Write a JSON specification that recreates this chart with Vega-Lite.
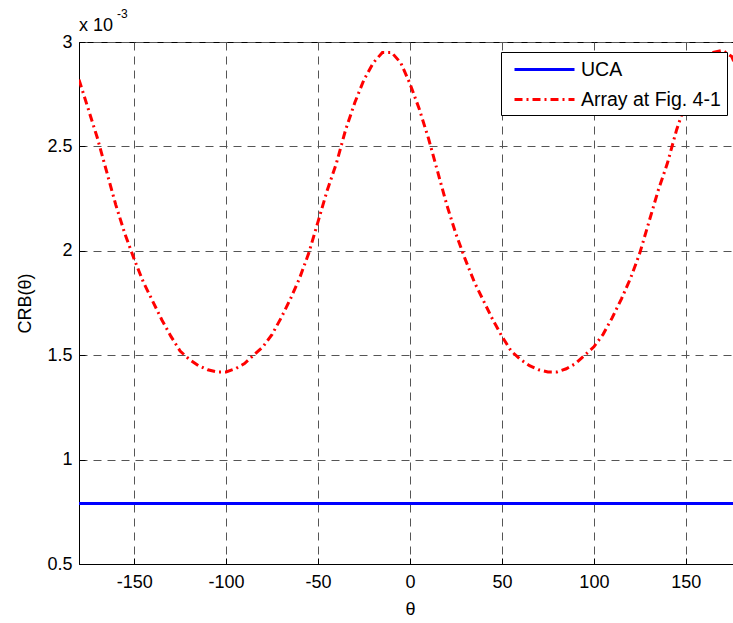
{
  "$schema": "https://vega.github.io/schema/vega-lite/v6.json",
  "width": 662,
  "height": 522,
  "autosize": "none",
  "padding": {"left": 79, "top": 42, "right": 0, "bottom": 59},
  "background": "white",
  "config": {
    "font": "Liberation Sans",
    "view": {"stroke": "black", "strokeWidth": 1},
    "axis": {
      "domainColor": "black",
      "domainWidth": 1,
      "tickColor": "black",
      "tickSize": -6,
      "tickWidth": 1,
      "labelColor": "black",
      "labelFont": "Liberation Sans",
      "labelFontSize": 18,
      "titleFont": "Liberation Sans",
      "titleFontSize": 18,
      "titleFontWeight": "normal",
      "titleColor": "black",
      "gridColor": "#555555",
      "gridDash": [8, 6],
      "gridWidth": 1,
      "gridOpacity": 1
    }
  },
  "layer": [
    {
      "data": {
        "values": [
          {"theta": -180, "crb": 0.79, "series": "UCA"},
          {"theta": 180, "crb": 0.79, "series": "UCA"},
          {"theta": -180, "crb": 2.82, "series": "Array at Fig. 4-1"},
          {"theta": -175, "crb": 2.68, "series": "Array at Fig. 4-1"},
          {"theta": -170, "crb": 2.54, "series": "Array at Fig. 4-1"},
          {"theta": -165, "crb": 2.38, "series": "Array at Fig. 4-1"},
          {"theta": -160, "crb": 2.22, "series": "Array at Fig. 4-1"},
          {"theta": -155, "crb": 2.08, "series": "Array at Fig. 4-1"},
          {"theta": -150, "crb": 1.96, "series": "Array at Fig. 4-1"},
          {"theta": -145, "crb": 1.85, "series": "Array at Fig. 4-1"},
          {"theta": -140, "crb": 1.76, "series": "Array at Fig. 4-1"},
          {"theta": -135, "crb": 1.67, "series": "Array at Fig. 4-1"},
          {"theta": -130, "crb": 1.59, "series": "Array at Fig. 4-1"},
          {"theta": -125, "crb": 1.52, "series": "Array at Fig. 4-1"},
          {"theta": -120, "crb": 1.48, "series": "Array at Fig. 4-1"},
          {"theta": -115, "crb": 1.45, "series": "Array at Fig. 4-1"},
          {"theta": -110, "crb": 1.43, "series": "Array at Fig. 4-1"},
          {"theta": -105, "crb": 1.42, "series": "Array at Fig. 4-1"},
          {"theta": -100, "crb": 1.42, "series": "Array at Fig. 4-1"},
          {"theta": -95, "crb": 1.435, "series": "Array at Fig. 4-1"},
          {"theta": -90, "crb": 1.46, "series": "Array at Fig. 4-1"},
          {"theta": -85, "crb": 1.5, "series": "Array at Fig. 4-1"},
          {"theta": -80, "crb": 1.54, "series": "Array at Fig. 4-1"},
          {"theta": -75, "crb": 1.6, "series": "Array at Fig. 4-1"},
          {"theta": -70, "crb": 1.68, "series": "Array at Fig. 4-1"},
          {"theta": -65, "crb": 1.77, "series": "Array at Fig. 4-1"},
          {"theta": -60, "crb": 1.87, "series": "Array at Fig. 4-1"},
          {"theta": -55, "crb": 1.99, "series": "Array at Fig. 4-1"},
          {"theta": -50, "crb": 2.14, "series": "Array at Fig. 4-1"},
          {"theta": -45, "crb": 2.29, "series": "Array at Fig. 4-1"},
          {"theta": -40, "crb": 2.42, "series": "Array at Fig. 4-1"},
          {"theta": -35, "crb": 2.58, "series": "Array at Fig. 4-1"},
          {"theta": -30, "crb": 2.71, "series": "Array at Fig. 4-1"},
          {"theta": -25, "crb": 2.82, "series": "Array at Fig. 4-1"},
          {"theta": -20, "crb": 2.9, "series": "Array at Fig. 4-1"},
          {"theta": -15, "crb": 2.95, "series": "Array at Fig. 4-1"},
          {"theta": -10, "crb": 2.95, "series": "Array at Fig. 4-1"},
          {"theta": -5, "crb": 2.9, "series": "Array at Fig. 4-1"},
          {"theta": 0, "crb": 2.8, "series": "Array at Fig. 4-1"},
          {"theta": 5, "crb": 2.68, "series": "Array at Fig. 4-1"},
          {"theta": 10, "crb": 2.54, "series": "Array at Fig. 4-1"},
          {"theta": 15, "crb": 2.38, "series": "Array at Fig. 4-1"},
          {"theta": 20, "crb": 2.22, "series": "Array at Fig. 4-1"},
          {"theta": 25, "crb": 2.08, "series": "Array at Fig. 4-1"},
          {"theta": 30, "crb": 1.96, "series": "Array at Fig. 4-1"},
          {"theta": 35, "crb": 1.85, "series": "Array at Fig. 4-1"},
          {"theta": 40, "crb": 1.76, "series": "Array at Fig. 4-1"},
          {"theta": 45, "crb": 1.67, "series": "Array at Fig. 4-1"},
          {"theta": 50, "crb": 1.59, "series": "Array at Fig. 4-1"},
          {"theta": 55, "crb": 1.52, "series": "Array at Fig. 4-1"},
          {"theta": 60, "crb": 1.48, "series": "Array at Fig. 4-1"},
          {"theta": 65, "crb": 1.45, "series": "Array at Fig. 4-1"},
          {"theta": 70, "crb": 1.43, "series": "Array at Fig. 4-1"},
          {"theta": 75, "crb": 1.42, "series": "Array at Fig. 4-1"},
          {"theta": 80, "crb": 1.42, "series": "Array at Fig. 4-1"},
          {"theta": 85, "crb": 1.435, "series": "Array at Fig. 4-1"},
          {"theta": 90, "crb": 1.46, "series": "Array at Fig. 4-1"},
          {"theta": 95, "crb": 1.5, "series": "Array at Fig. 4-1"},
          {"theta": 100, "crb": 1.54, "series": "Array at Fig. 4-1"},
          {"theta": 105, "crb": 1.6, "series": "Array at Fig. 4-1"},
          {"theta": 110, "crb": 1.68, "series": "Array at Fig. 4-1"},
          {"theta": 115, "crb": 1.77, "series": "Array at Fig. 4-1"},
          {"theta": 120, "crb": 1.87, "series": "Array at Fig. 4-1"},
          {"theta": 125, "crb": 1.99, "series": "Array at Fig. 4-1"},
          {"theta": 130, "crb": 2.14, "series": "Array at Fig. 4-1"},
          {"theta": 135, "crb": 2.29, "series": "Array at Fig. 4-1"},
          {"theta": 140, "crb": 2.42, "series": "Array at Fig. 4-1"},
          {"theta": 145, "crb": 2.58, "series": "Array at Fig. 4-1"},
          {"theta": 150, "crb": 2.71, "series": "Array at Fig. 4-1"},
          {"theta": 155, "crb": 2.82, "series": "Array at Fig. 4-1"},
          {"theta": 160, "crb": 2.9, "series": "Array at Fig. 4-1"},
          {"theta": 165, "crb": 2.95, "series": "Array at Fig. 4-1"},
          {"theta": 170, "crb": 2.96, "series": "Array at Fig. 4-1"},
          {"theta": 175, "crb": 2.93, "series": "Array at Fig. 4-1"},
          {"theta": 180, "crb": 2.82, "series": "Array at Fig. 4-1"}
        ]
      },
      "mark": {"type": "line", "strokeWidth": 3, "clip": true},
      "encoding": {
        "x": {
          "field": "theta", "type": "quantitative",
          "scale": {"domain": [-180, 180], "nice": false, "zero": false},
          "axis": {
            "orient": "bottom",
            "title": "θ",
            "values": [-150, -100, -50, 0, 50, 100, 150],
            "labelExpr": "datum.value < 0 ? '-' + abs(datum.value) : '' + datum.value",
            "labelPadding": 15,
            "titlePadding": 9,
            "grid": true
          }
        },
        "y": {
          "field": "crb", "type": "quantitative",
          "scale": {"domain": [0.5, 3], "nice": false, "zero": false},
          "axis": {
            "title": "CRB(θ)",
            "values": [0.5, 1, 1.5, 2, 2.5, 3],
            "format": "~g",
            "labelPadding": 13,
            "titlePadding": 12,
            "grid": true
          }
        },
        "color": {
          "field": "series", "type": "nominal",
          "sort": ["UCA", "Array at Fig. 4-1"],
          "scale": {"domain": ["UCA", "Array at Fig. 4-1"], "range": ["#0000ff", "#ff0000"]},
          "legend": {
            "title": null,
            "orient": "none",
            "legendX": 422,
            "legendY": 10,
            "fillColor": "white",
            "strokeColor": "black",
            "padding": 6,
            "rowPadding": 9,
            "symbolType": "M-3,0H3",
            "symbolSize": 400,
            "symbolStrokeWidth": 3,
            "symbolOffset": 26,
            "labelOffset": 25,
            "labelFontSize": 19.5,
            "labelFont": "Liberation Sans",
            "labelColor": "black",
            "labelLimit": 400,
            "encode": {
              "symbols": {
                "update": {
                  "strokeDash": {"signal": "datum.label === 'UCA' ? [1, 0] : [8, 4, 2, 4]"}
                }
              }
            }
          }
        },
        "strokeDash": {
          "condition": {"test": "datum.series === 'UCA'", "value": [1, 0]},
          "value": [8, 4, 2, 4]
        }
      }
    },
    {
      "data": {"values": [{"theta": -180, "crb": 3, "label": "x 10"}]},
      "mark": {"type": "text", "align": "left", "baseline": "alphabetic", "dy": -11, "fontSize": 18, "font": "Liberation Sans", "color": "black"},
      "encoding": {
        "x": {"field": "theta", "type": "quantitative"},
        "y": {"field": "crb", "type": "quantitative"},
        "text": {"field": "label"}
      }
    },
    {
      "data": {"values": [{"theta": -180, "crb": 3, "label": "-3"}]},
      "mark": {"type": "text", "align": "left", "baseline": "alphabetic", "dx": 38, "dy": -24, "fontSize": 12, "font": "Liberation Sans", "color": "black"},
      "encoding": {
        "x": {"field": "theta", "type": "quantitative"},
        "y": {"field": "crb", "type": "quantitative"},
        "text": {"field": "label"}
      }
    }
  ]
}
